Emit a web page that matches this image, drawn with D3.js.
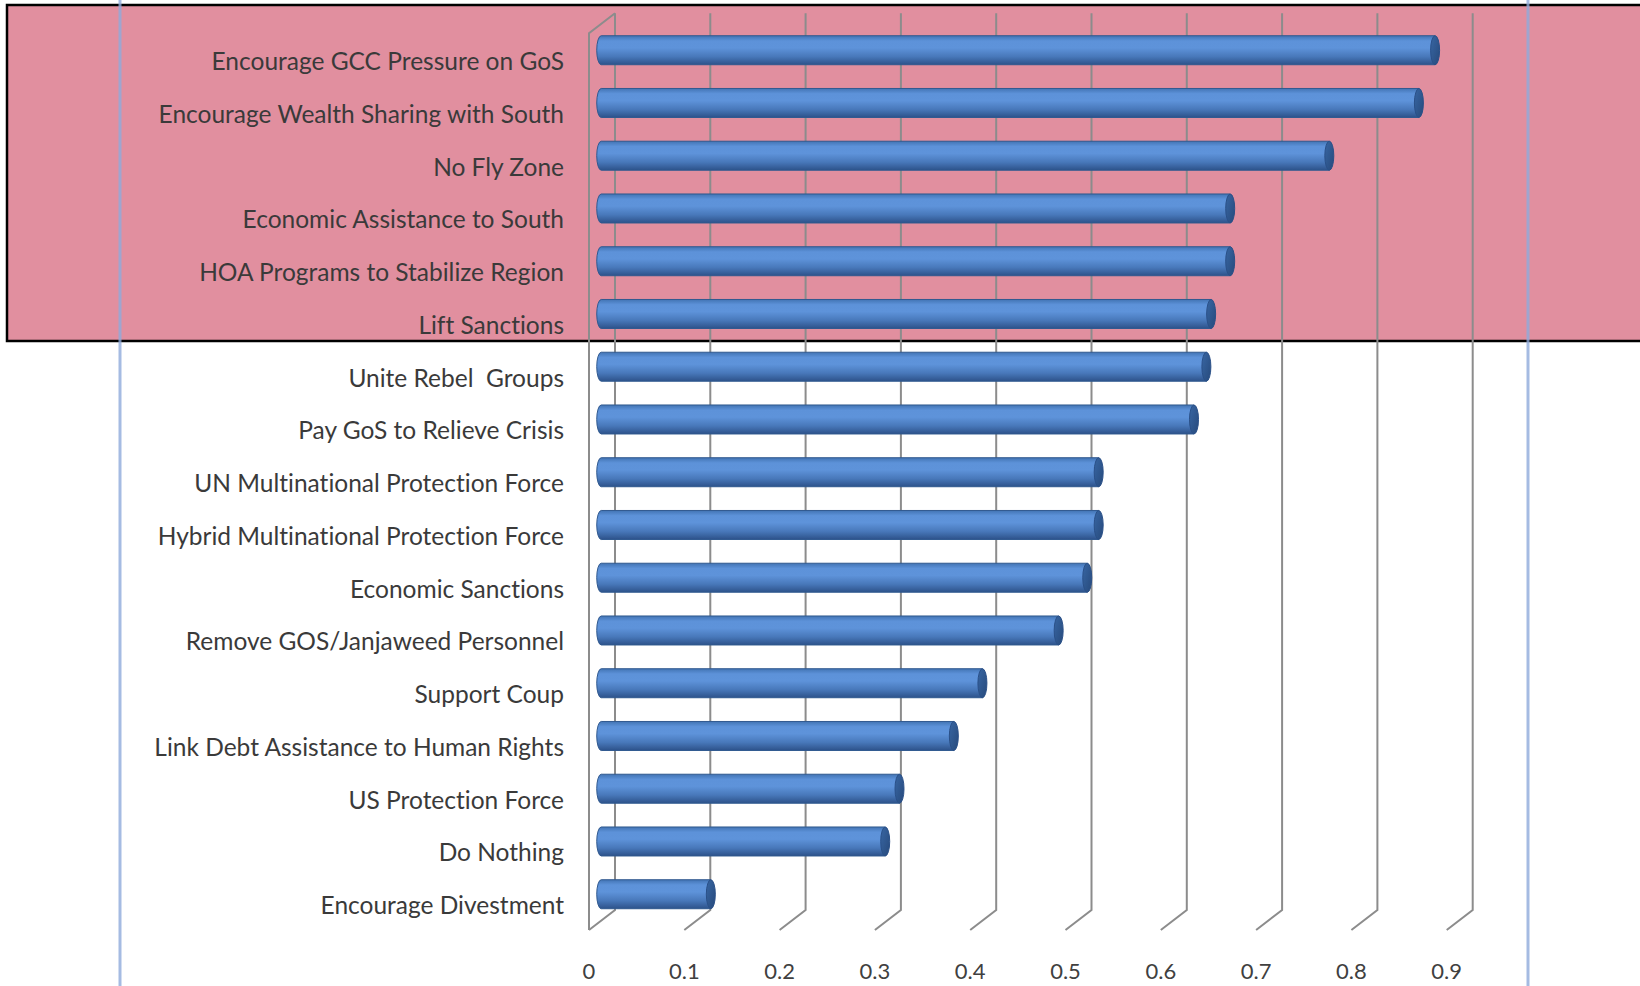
<!DOCTYPE html>
<html>
<head>
<meta charset="utf-8">
<script src="https://cdn.jsdelivr.net/npm/d3@7"></script>
<style>
  html, body { margin: 0; padding: 0; background: #fff; }
  svg { display: block; }
  text { font-variant-ligatures: none; }
</style>
</head>
<body>
<svg id="chart" width="1640" height="986"></svg>
<script>
const width = 1640;
const height = 986;

// categories top to bottom
const categories = [
  "Encourage GCC Pressure on GoS",
  "Encourage Wealth Sharing with South",
  "No Fly Zone",
  "Economic Assistance to South",
  "HOA Programs to Stabilize Region",
  "Lift Sanctions",
  "Unite Rebel  Groups",
  "Pay GoS to Relieve Crisis",
  "UN Multinational Protection Force",
  "Hybrid Multinational Protection Force",
  "Economic Sanctions",
  "Remove GOS/Janjaweed Personnel",
  "Support Coup",
  "Link Debt Assistance to Human Rights",
  "US Protection Force",
  "Do Nothing",
  "Encourage Divestment"
];
const values = [0.875, 0.858, 0.764, 0.66, 0.66, 0.64, 0.635, 0.622, 0.522, 0.522, 0.51, 0.48, 0.40, 0.37, 0.313, 0.298, 0.115];
const tickValues = [0, 0.1, 0.2, 0.3, 0.4, 0.5, 0.6, 0.7, 0.8, 0.9];

const svg = d3.select("#chart");

// 3d-ish projection: front plane, back wall offset
const depth = { dx: 26, dy: -20 };
const barDepth = 0.47;

const x = d3.scaleLinear().domain([0, 0.9]).range([589, 589 + 857.7]);
const y = d3.scaleBand().domain(categories).range([33.25, 930]).padding(0);

// highlight box behind top rows
svg.append("rect")
  .attr("x", 7).attr("y", 5)
  .attr("width", 1640).attr("height", 336)
  .attr("fill", "#e18f9f")
  .attr("stroke", "#000")
  .attr("stroke-width", 2.5);

const grid = svg.append("g")
  .attr("fill", "none")
  .attr("stroke", "#8c8c8c")
  .attr("stroke-width", 2);

const yTop = y.range()[0];
const yBot = y.range()[1];

// left side wall
grid.append("path")
  .attr("d", `M${x(0)},${yBot} L${x(0)},${yTop} L${x(0) + depth.dx},${yTop + depth.dy}`);

// back wall verticals + floor diagonals
grid.selectAll("path.gl")
  .data(tickValues)
  .enter()
  .append("path")
  .attr("class", "gl")
  .attr("d", d => `M${x(d) + depth.dx},${yTop + depth.dy} L${x(d) + depth.dx},${yBot + depth.dy} L${x(d)},${yBot}`);

// tick labels
svg.append("g")
  .selectAll("text")
  .data(tickValues)
  .enter()
  .append("text")
  .attr("x", d => x(d))
  .attr("y", 970)
  .attr("text-anchor", "middle")
  .attr("dominant-baseline", "central")
  .style("font-family", "Lato, 'Open Sans', sans-serif")
  .style("font-size", "22px")
  .style("fill", "#404040")
  .text(d => d);

// category labels
svg.append("g")
  .selectAll("text")
  .data(categories)
  .enter()
  .append("text")
  .attr("x", 564)
  .attr("y", d => y(d) + y.bandwidth() / 2 + 1)
  .attr("text-anchor", "end")
  .attr("dominant-baseline", "central")
  .style("font-family", "Lato, 'Open Sans', sans-serif")
  .style("font-size", "24.5px")
  .style("fill", "#3a3a3a")
  .style("white-space", "pre")
  .text(d => d);

// gradients for cylinders
const defs = svg.append("defs");
const bodyGrad = defs.append("linearGradient")
  .attr("id", "body").attr("x1", 0).attr("y1", 0).attr("x2", 0).attr("y2", 1);
[["0%", "#4274b4"], ["18%", "#5d92d9"], ["42%", "#5e93da"], ["72%", "#4878ba"], ["100%", "#2d528a"]]
  .forEach(([o, c]) => bodyGrad.append("stop").attr("offset", o).attr("stop-color", c));

const capGrad = defs.append("linearGradient")
  .attr("id", "cap").attr("x1", 0).attr("y1", 0).attr("x2", 1).attr("y2", 1);
[["0%", "#3866a3"], ["100%", "#274a7c"]]
  .forEach(([o, c]) => capGrad.append("stop").attr("offset", o).attr("stop-color", c));

const barH = y.step() * 0.55;
const ry = barH / 2;
const rx = 4.5;
const bx = depth.dx * barDepth;
const by = depth.dy * barDepth;

const bars = svg.append("g")
  .selectAll("g.bar")
  .data(categories.map((c, i) => ({ c, v: values[i] })))
  .enter()
  .append("g")
  .attr("class", "bar");

bars.append("path")
  .attr("d", d => {
    const cy = y(d.c) + y.bandwidth() / 2 + by;
    const x0 = x(0) + bx;
    const x1 = x(d.v) + bx;
    return `M${x0},${cy - ry} L${x1},${cy - ry} L${x1},${cy + ry} L${x0},${cy + ry} A${rx},${ry} 0 0 1 ${x0},${cy - ry} Z`;
  })
  .attr("fill", "url(#body)")
  .attr("stroke", "#30598f")
  .attr("stroke-width", 1);

bars.append("ellipse")
  .attr("cx", d => x(d.v) + bx)
  .attr("cy", d => y(d.c) + y.bandwidth() / 2 + by)
  .attr("rx", rx)
  .attr("ry", ry)
  .attr("fill", "url(#cap)")
  .attr("stroke", "#2a5088")
  .attr("stroke-width", 1);

// page border lines
svg.append("g")
  .selectAll("line")
  .data([120, 1528])
  .enter()
  .append("line")
  .attr("x1", d => d).attr("x2", d => d)
  .attr("y1", 0).attr("y2", height)
  .attr("stroke", "#8eaadb")
  .attr("stroke-opacity", 0.8)
  .attr("stroke-width", 3);
</script>
</body>
</html>
